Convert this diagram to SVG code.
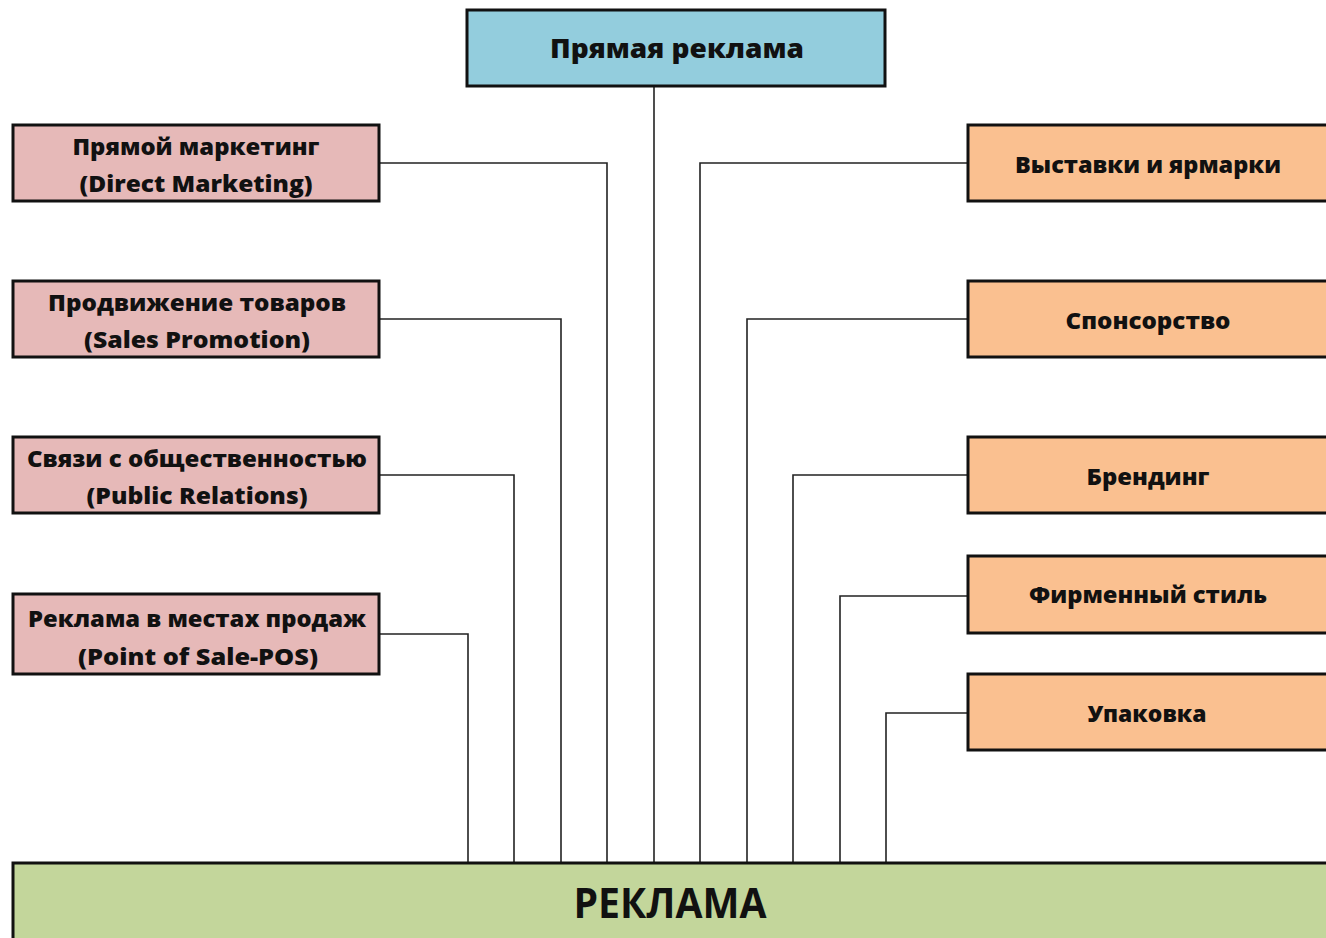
<svg xmlns="http://www.w3.org/2000/svg" width="1326" height="938" viewBox="0 0 1326 938">
<style>
.box{stroke:#111;stroke-width:3}
.blue{fill:#93CDDD}
.pink{fill:#E6B9B8}
.orange{fill:#FAC090}
.green{fill:#C3D69B}
.t{font-family:"Open Sans","Liberation Sans",sans-serif;font-weight:800;font-size:22px;fill:#111;text-anchor:middle}
.big{font-size:42px;font-weight:bold}
.c{fill:none;stroke:#222;stroke-width:1.6}
</style>
<rect width="1326" height="938" fill="#fff"/>
<g id="connectors">
<path class="c" d="M654 86V862"/>
<path class="c" d="M379 163H607V862"/>
<path class="c" d="M379 319H561V862"/>
<path class="c" d="M379 475H514V862"/>
<path class="c" d="M379 634H468V862"/>
<path class="c" d="M968 163H700V862"/>
<path class="c" d="M968 319H747V862"/>
<path class="c" d="M968 475H793V862"/>
<path class="c" d="M968 596H840V862"/>
<path class="c" d="M968 713H886V862"/>
</g>
<g id="top"><rect class="box blue" x="467" y="10" width="418" height="76"/><text class="t" x="677" y="58" style="font-size:26px" textLength="254" lengthAdjust="spacingAndGlyphs">Прямая реклама</text></g>
<g id="l1"><rect class="box pink" x="13" y="125" width="366" height="76"/><text class="t" x="196" y="155" textLength="247" lengthAdjust="spacingAndGlyphs">Прямой маркетинг</text><text class="t" x="196" y="192" textLength="233" lengthAdjust="spacingAndGlyphs">(Direct Marketing)</text></g>
<g id="l2"><rect class="box pink" x="13" y="281" width="366" height="76"/><text class="t" x="197" y="311" textLength="298" lengthAdjust="spacingAndGlyphs">Продвижение товаров</text><text class="t" x="197" y="348" textLength="226" lengthAdjust="spacingAndGlyphs">(Sales Promotion)</text></g>
<g id="l3"><rect class="box pink" x="13" y="437" width="366" height="76"/><text class="t" x="197" y="467" textLength="340" lengthAdjust="spacingAndGlyphs">Связи с общественностью</text><text class="t" x="197" y="504" textLength="221" lengthAdjust="spacingAndGlyphs">(Public Relations)</text></g>
<g id="l4"><rect class="box pink" x="13" y="594" width="366" height="80"/><text class="t" x="197" y="627" textLength="338" lengthAdjust="spacingAndGlyphs">Реклама в местах продаж</text><text class="t" x="198" y="665" textLength="240" lengthAdjust="spacingAndGlyphs">(Point of Sale-POS)</text></g>
<g id="r1"><rect class="box orange" x="968" y="125" width="360" height="76"/><text class="t" x="1148" y="173" textLength="266" lengthAdjust="spacingAndGlyphs">Выставки и ярмарки</text></g>
<g id="r2"><rect class="box orange" x="968" y="281" width="360" height="76"/><text class="t" x="1148" y="329" textLength="165" lengthAdjust="spacingAndGlyphs">Спонсорство</text></g>
<g id="r3"><rect class="box orange" x="968" y="437" width="360" height="76"/><text class="t" x="1148" y="485" textLength="123" lengthAdjust="spacingAndGlyphs">Брендинг</text></g>
<g id="r4"><rect class="box orange" x="968" y="556" width="360" height="77"/><text class="t" x="1148" y="603" textLength="238" lengthAdjust="spacingAndGlyphs">Фирменный стиль</text></g>
<g id="r5"><rect class="box orange" x="968" y="674" width="360" height="76"/><text class="t" x="1147" y="722" textLength="119" lengthAdjust="spacingAndGlyphs">Упаковка</text></g>
<g id="bottom"><rect class="box green" x="13" y="863" width="1316" height="80"/><text class="t big" x="670" y="918" textLength="193" lengthAdjust="spacingAndGlyphs">РЕКЛАМА</text></g>
</svg>
